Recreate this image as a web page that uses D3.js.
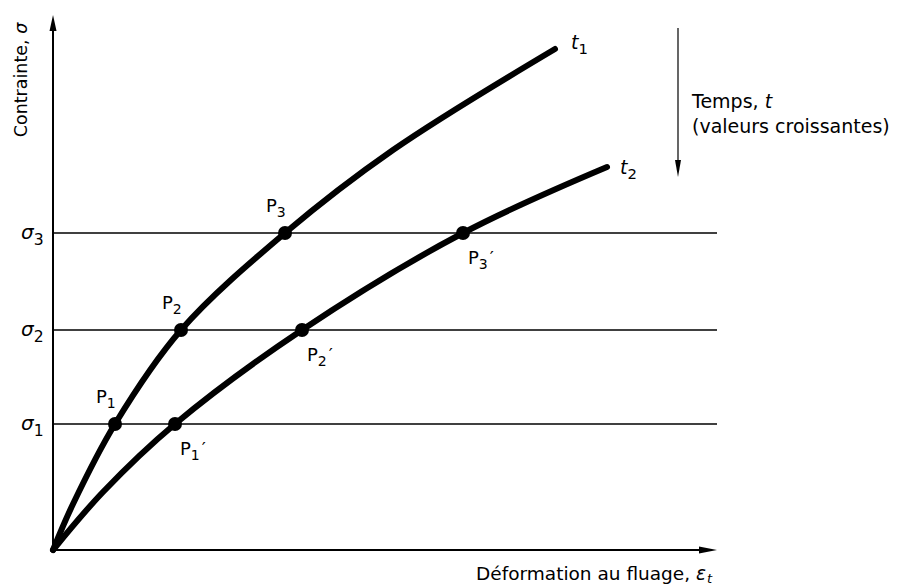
<!DOCTYPE html>
<html><head><meta charset="utf-8">
<script src="https://cdn.jsdelivr.net/npm/d3@7"></script>
<style>body{margin:0;background:#fff}svg{display:block}text{font-family:"DejaVu Sans",sans-serif;fill:#000}</style>
</head><body>
<script>
// Arbitrary units (strain, stress)
const sigmaLevels = [126, 220, 317];
const sigmaLabels = ["1", "2", "3"];
const curveT1 = [[0,0],[20,46],[62,126],[128,220],[232,317],[340,400],[502,501]];
const curveT2 = [[0,0],[50,58],[122,126],[249,220],[410,317],[554,383]];
const pointsT1 = [[62,126],[128,220],[232,317]];
const pointsT2 = [[122,126],[249,220],[410,317]];
const pointNames = ["1","2","3"];

const W = 898, H = 586;
const svg = d3.select("body").append("svg").attr("width", W).attr("height", H);
const x = d3.scaleLinear().domain([0, 664]).range([53, 717]);
const y = d3.scaleLinear().domain([0, 535]).range([550, 15]);

// horizontal stress lines
svg.selectAll("line.lvl").data(sigmaLevels).join("line")
  .attr("x1", x(0)).attr("x2", x(664)).attr("y1", d => y(d)).attr("y2", d => y(d))
  .attr("stroke", "#000").attr("stroke-width", 1.4);

// axes
svg.append("line").attr("x1", x(0)).attr("y1", y(0)).attr("x2", x(0)).attr("y2", y(535) + 10)
  .attr("stroke", "#000").attr("stroke-width", 2);
svg.append("line").attr("x1", x(0)).attr("y1", y(0)).attr("x2", x(664) - 10).attr("y2", y(0))
  .attr("stroke", "#000").attr("stroke-width", 2);
svg.append("path").attr("d", `M${x(0)},${y(535)} L${x(0)-3.5},${y(535)+16} L${x(0)+3.5},${y(535)+16}Z`).attr("fill", "#000");
svg.append("path").attr("d", `M${x(664)},${y(0)} L${x(664)-18},${y(0)-3.5} L${x(664)-18},${y(0)+3.5}Z`).attr("fill", "#000");

// curves
const line = d3.line().x(d => x(d[0])).y(d => y(d[1])).curve(d3.curveCatmullRom.alpha(0.5));
[curveT1, curveT2].forEach(c => {
  svg.append("path").attr("d", line(c)).attr("fill", "none").attr("stroke", "#000")
    .attr("stroke-width", 6).attr("stroke-linecap", "round").attr("stroke-linejoin", "round");
});

// points
svg.selectAll("circle.p").data(pointsT1.concat(pointsT2)).join("circle")
  .attr("cx", d => x(d[0])).attr("cy", d => y(d[1])).attr("r", 7).attr("fill", "#000");

function subText(g, px, py, main, sub, suffix, size, italic) {
  const t = g.append("text").attr("x", px).attr("y", py).style("font-size", size + "px");
  if (italic) t.style("font-style", "italic");
  t.append("tspan").text(main);
  t.append("tspan").attr("dy", size * 0.28).style("font-size", (size * 0.78) + "px").style("font-style", "normal").text(sub);
  if (suffix) t.append("tspan").attr("dy", -size * 0.28).attr("dx", 2).text(suffix);
  return t;
}

// point labels
pointsT1.forEach((p, i) => subText(svg, x(p[0]) - 19, y(p[1]) - 21, "P", pointNames[i], null, 18, false));
pointsT2.forEach((p, i) => subText(svg, x(p[0]) + 5, y(p[1]) + 31, "P", pointNames[i], "\u2032", 18, false));

// sigma labels
sigmaLevels.forEach((s, i) => subText(svg, 21, y(s) + 6, "\u03C3", sigmaLabels[i], null, 20, true));

// curve labels
subText(svg, 571, 49, "t", "1", null, 19, true);
subText(svg, 620, 174, "t", "2", null, 19, true);

// axis titles
const yl = svg.append("text").attr("transform", "translate(27,80) rotate(-90)")
  .attr("text-anchor", "middle").style("font-size", "17.5px");
yl.append("tspan").text("Contrainte, ");
yl.append("tspan").style("font-style", "italic").text("\u03C3");

const xl = svg.append("text").attr("x", 706).attr("y", 580).attr("text-anchor", "end").style("font-size", "18.5px");
xl.append("tspan").text("Déformation au fluage, ");
xl.append("tspan").style("font-style", "italic").text("\u03B5");
svg.append("text").attr("x", 707).attr("y", 583).style("font-size", "13px").style("font-style", "italic").text("t");

// time arrow
svg.append("line").attr("x1", 678).attr("y1", 28).attr("x2", 678).attr("y2", 165).attr("stroke", "#000").attr("stroke-width", 1.2);
svg.append("path").attr("d", "M678,177 L675,160 L681,160Z").attr("fill", "#000");
const tt = svg.append("text").attr("x", 692).attr("y", 108).style("font-size", "19px");
tt.append("tspan").text("Temps, ");
tt.append("tspan").style("font-style", "italic").text("t");
svg.append("text").attr("x", 692).attr("y", 133).style("font-size", "19px").text("(valeurs croissantes)");
</script>
</body></html>
